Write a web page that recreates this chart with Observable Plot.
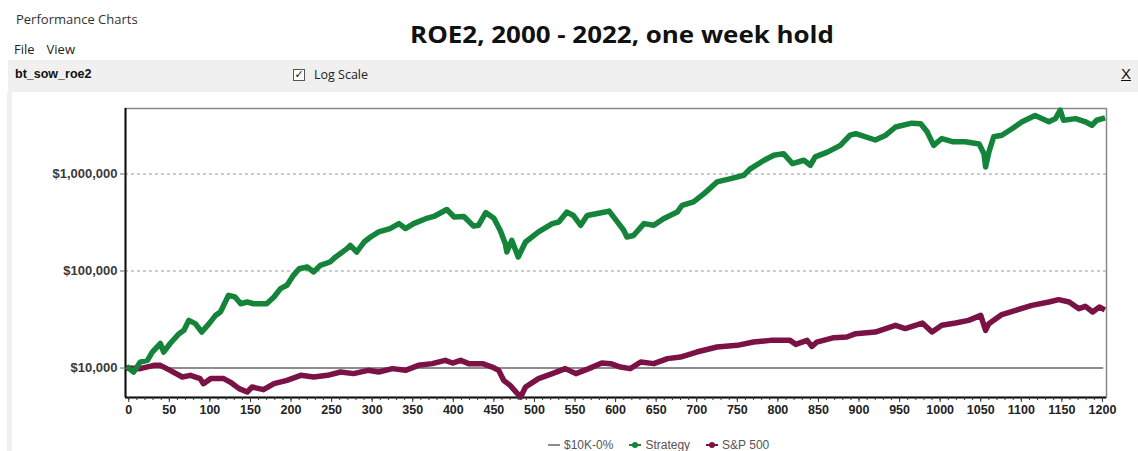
<!DOCTYPE html>
<html>
<head>
<meta charset="utf-8">
<script src="https://cdn.jsdelivr.net/npm/d3@7"></script>
<script src="https://cdn.jsdelivr.net/npm/@observablehq/plot@0.6"></script>
<style>
  html, body { margin: 0; padding: 0; background: #fff; }
  #page { position: relative; width: 1138px; height: 451px; overflow: hidden; background: #fff; font-family: "Open Sans", "Liberation Sans", sans-serif; }
  .abs { position: absolute; white-space: nowrap; }
  #app { left: 16px; top: 10px; font-size: 13px; color: #333; }
  #menu { left: 14px; top: 40px; font-size: 13px; color: #222; }
  #menu span { margin-right: 12px; }
  #band { left: 8px; top: 60px; width: 1130px; height: 32px; background: #f0f0f0; }
  #strip { left: 7px; top: 92px; width: 5px; height: 359px; background: #f0f0f0; }
  #name { left: 15px; top: 67px; font-family: "Liberation Sans", Arial, sans-serif; font-weight: bold; font-size: 12.5px; color: #111; }
  #chk { left: 293px; top: 69px; width: 10px; height: 10px; border: 1px solid #555; background: #fff; font-size: 11px; line-height: 10px; text-align: center; font-family: "DejaVu Sans", sans-serif; font-weight: bold; color: #111; }
  #logscale { left: 314px; top: 66px; font-size: 12.5px; color: #222; }
  #close { left: 1121px; top: 65px; font-family: "Liberation Sans", Arial, sans-serif; font-size: 15px; color: #111; text-decoration: underline; }
  #title { left: 622px; top: 17px; transform: translateX(-50%) scaleX(1.08); font-weight: 700; font-size: 24px; color: #111; font-family: "Open Sans", sans-serif; letter-spacing: 0px; }
  #chart { left: 0; top: 92px; }
  #legend { left: 548px; top: 438px; font-family: "Liberation Sans", Arial, sans-serif; font-size: 12px; color: #555; display: flex; align-items: center; }
  .sw { display: inline-block; position: relative; width: 12px; height: 2px; margin-right: 4px; }
  .dot { position: absolute; left: 3px; top: -2px; width: 6px; height: 6px; border-radius: 50%; }
  .item { display: flex; align-items: center; margin-right: 16px; }
</style>
</head>
<body>
<div id="page">
  <div class="abs" id="app">Performance Charts</div>
  <div class="abs" id="menu"><span>File</span><span>View</span></div>
  <div class="abs" id="band"></div>
  <div class="abs" id="strip"></div>
  <div class="abs" id="name">bt_sow_roe2</div>
  <div class="abs" id="chk">✓</div>
  <div class="abs" id="logscale">Log Scale</div>
  <div class="abs" id="close">X</div>
  <div class="abs" id="title">ROE2, 2000 - 2022, one week hold</div>
  <div class="abs" id="chart"></div>
  <div class="abs" id="legend"></div>
</div>
<script>
// ---- Data ----
const seriesNames = ["$10K-0%", "Strategy", "S&P 500"];
const seriesColors = ["#8c8c8c", "#14843a", "#7a1245"];

const benchmarkWeeks = [0, 1200];
const benchmarkValues = [10000, 10000];

const strategyWeeks = [0, 6, 14, 23, 29, 39, 43, 51, 62, 68, 74, 82, 90, 99, 107, 113, 123, 131, 138, 146, 154, 170, 179, 187, 195, 203, 210, 220, 228, 236, 248, 255, 269, 273, 281, 290, 298, 308, 322, 333, 341, 351, 366, 376, 392, 401, 413, 425, 431, 440, 450, 458, 464, 466, 472, 480, 489, 505, 522, 530, 540, 548, 557, 565, 587, 592, 601, 610, 614, 622, 635, 647, 659, 676, 682, 696, 709, 725, 742, 758, 766, 783, 795, 807, 818, 832, 840, 846, 861, 877, 889, 896, 920, 933, 945, 965, 976, 984, 992, 1002, 1015, 1031, 1048, 1054, 1056, 1060, 1066, 1076, 1089, 1101, 1117, 1134, 1142, 1148, 1152, 1167, 1179, 1187, 1193, 1200];
const strategyValues = [10000, 9100, 11500, 12000, 14600, 17900, 14600, 17900, 22600, 24500, 31000, 28700, 23500, 28700, 34900, 37800, 56200, 54000, 46000, 47900, 46000, 46000, 54000, 65900, 71200, 90200, 105600, 109800, 97800, 114500, 123800, 139700, 170000, 183900, 157000, 199000, 224000, 253000, 274000, 308000, 274000, 308000, 346000, 365000, 430000, 360000, 365000, 290000, 296000, 400000, 350000, 260000, 192000, 157000, 207000, 139700, 199000, 253000, 308000, 320000, 405000, 373000, 296000, 373000, 405000, 415000, 330000, 263000, 224000, 232000, 308000, 296000, 346000, 405000, 476000, 516000, 628000, 828000, 897000, 971000, 1130000, 1385000, 1560000, 1620000, 1280000, 1385000, 1230000, 1500000, 1680000, 1970000, 2510000, 2600000, 2240000, 2510000, 3050000, 3340000, 3300000, 2720000, 1970000, 2320000, 2150000, 2150000, 2040000, 1620000, 1180000, 1680000, 2420000, 2510000, 2940000, 3450000, 4000000, 3450000, 3720000, 4550000, 3580000, 3720000, 3450000, 3180000, 3580000, 3720000];

const sp500Weeks = [0, 14, 31, 39, 51, 66, 76, 88, 92, 101, 117, 125, 136, 146, 152, 166, 179, 195, 212, 228, 245, 261, 277, 295, 308, 325, 341, 357, 374, 390, 399, 409, 419, 436, 448, 456, 462, 470, 479, 483, 489, 505, 522, 538, 551, 567, 583, 594, 606, 618, 631, 647, 664, 680, 700, 725, 750, 770, 791, 815, 822, 836, 842, 848, 869, 885, 896, 920, 945, 957, 978, 990, 1002, 1019, 1035, 1050, 1056, 1060, 1076, 1093, 1113, 1134, 1146, 1159, 1171, 1179, 1188, 1196, 1200];
const sp500Values = [10000, 9860, 10660, 10660, 9470, 8080, 8410, 7780, 6900, 7780, 7780, 7170, 6130, 5660, 6370, 5990, 6900, 7470, 8410, 8080, 8410, 9100, 8760, 9470, 9100, 9860, 9470, 10660, 11100, 12000, 11260, 12000, 11100, 11100, 10240, 9470, 7470, 6630, 5450, 5030, 6370, 7780, 8760, 9860, 8760, 9860, 11260, 11100, 10240, 9860, 11530, 11100, 12500, 12980, 14620, 16460, 17130, 18530, 19280, 19280, 17540, 19280, 16700, 18530, 20570, 20900, 22600, 23500, 27550, 25500, 29100, 23500, 27550, 29100, 31000, 34900, 24460, 28660, 35600, 39400, 44260, 47900, 50700, 47900, 40900, 43200, 37800, 42500, 40900];

const yTickValues = [10000, 100000, 1000000];
const yGridValues = [100000, 1000000];
const xTickValues = [0, 50, 100, 150, 200, 250, 300, 350, 400, 450, 500, 550, 600, 650, 700, 750, 800, 850, 900, 950, 1000, 1050, 1100, 1150, 1200];
const xMinorTickValues = d3.range(0, 1201, 10);

// ---- Layout ----
const xDomain = [-4, 1205];
const yDomain = [4970, 4730000];

const toRows = (weeks, values) => weeks.map((w, i) => ({week: w, value: values[i]}));
const benchRows = toRows(benchmarkWeeks, benchmarkValues);
const stratRows = toRows(strategyWeeks, strategyValues);
const spRows = toRows(sp500Weeks, sp500Values);

const chart = Plot.plot({
  width: 1138,
  height: 340,
  marginLeft: 125,
  marginRight: 32,
  marginTop: 16,
  marginBottom: 35,
  style: {fontFamily: "Liberation Sans, Arial, sans-serif", fontSize: "12px", background: "transparent", overflow: "visible"},
  x: {domain: xDomain, label: null},
  y: {type: "log", domain: yDomain, label: null},
  marks: [
    Plot.ruleY(yGridValues, {stroke: "#9a9a9a", strokeWidth: 1.2, strokeDasharray: "3,3"}),
    Plot.frame({stroke: "#8a8a8a", strokeWidth: 1.5}),
    Plot.ruleX([xDomain[0]], {stroke: "#111", strokeWidth: 2}),
    Plot.ruleY([yDomain[0]], {stroke: "#111", strokeWidth: 2}),
    Plot.line(benchRows, {x: "week", y: "value", stroke: seriesColors[0], strokeWidth: 2}),
    Plot.line(spRows, {x: "week", y: "value", stroke: seriesColors[2], strokeWidth: 5.5, strokeLinejoin: "round", strokeLinecap: "square"}),
    Plot.line(stratRows, {x: "week", y: "value", stroke: seriesColors[1], strokeWidth: 5.5, strokeLinejoin: "round", strokeLinecap: "square"}),
    Plot.axisY(yTickValues, {tickFormat: d3.format("$,"), tickSize: 5, tickPadding: 3, fontSize: 13, fontWeight: "bold", fill: "#3a3a3a", stroke: "#666", label: null}),
    Plot.axisX(xMinorTickValues, {tickSize: 3, tickFormat: () => "", stroke: "#333", label: null}),
    Plot.axisX(xTickValues, {tickSize: 5, tickPadding: 3, fontSize: 12.5, fontWeight: "bold", fill: "#222", stroke: "#333", tickFormat: d => String(d), label: null})
  ]
});
document.getElementById("chart").appendChild(chart);

// ---- Legend ----
const legend = document.getElementById("legend");
seriesNames.forEach((name, i) => {
  const item = document.createElement("div");
  item.className = "item";
  const sw = document.createElement("span");
  sw.className = "sw";
  sw.style.background = seriesColors[i];
  if (i > 0) {
    const dot = document.createElement("span");
    dot.className = "dot";
    dot.style.background = seriesColors[i];
    sw.appendChild(dot);
  }
  item.appendChild(sw);
  const t = document.createElement("span");
  t.textContent = name;
  item.appendChild(t);
  legend.appendChild(item);
});
</script>
</body>
</html>
